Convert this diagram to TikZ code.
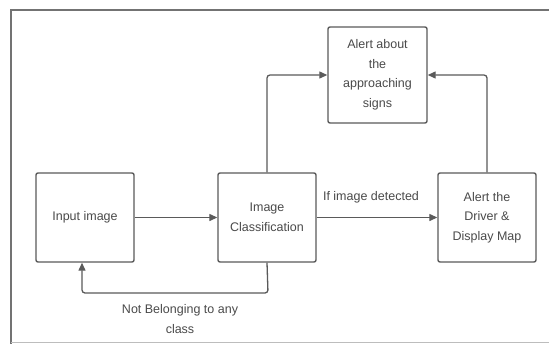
\documentclass[tikz,border=0pt]{standalone}
\usepackage{fontspec}
\setmainfont{Liberation Sans}
\usetikzlibrary{arrows.meta}
\definecolor{linegray}{HTML}{5A5A5A}
\definecolor{txtgray}{HTML}{4A4A4A}
\tikzset{
  box/.style={draw=linegray, line width=1.4pt, rounded corners=2pt, align=center,
    text=txtgray, font=\fontsize{12.5}{19.5}\selectfont, inner sep=0pt},
  conn/.style={draw=linegray, line width=1.3pt, rounded corners=3pt, -{Triangle[length=8pt,width=7pt]}},
  lbl/.style={text=txtgray, font=\fontsize{12.5}{19.5}\selectfont, align=center, inner sep=0pt}
}
\begin{document}
\begin{tikzpicture}[x=1pt,y=-1pt]
\useasboundingbox (0,0) rectangle (549,343);
\fill[white] (0,0) rectangle (549,343);
\draw[linegray!85, line width=1.8pt] (11,349) -- (11,10) -- (560,10);
\draw[linegray!40, line width=1pt] (11,342) -- (560,342);
\node[box, minimum width=98pt, minimum height=89pt] (inp) at (85,217.5) {Input image};
\node[box, minimum width=98pt, minimum height=89pt] (cls) at (267,217.5) {Image\\Classification};
\node[box, minimum width=98pt, minimum height=89pt] (drv) at (487,217.5) {Alert the\\Driver \&\\Display Map};
\node[box, minimum width=99pt, minimum height=96pt] (alr) at (377.5,75) {Alert about\\the\\approaching\\signs};
\coordinate (c1) at (268,293);
\draw[conn] (inp.east) -- (cls.west);
\draw[conn] (cls.east) -- node[lbl, above=14pt, pos=0.45] (l1) {If image detected} (drv.west);
\draw[conn] (cls.north) |- (alr.west);
\draw[conn] (drv.north) |- (alr.east);
\draw[conn] (cls.south) -- (c1) -| ([xshift=-3pt]inp.south);
\node[lbl] (l2) at (180,319) {Not Belonging to any\\class};
\end{tikzpicture}
\end{document}
